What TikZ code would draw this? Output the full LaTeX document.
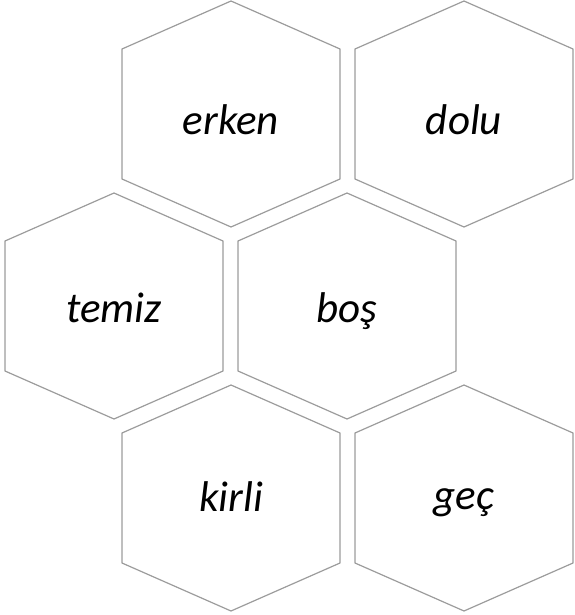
\documentclass[tikz,border=0pt]{standalone}
\usepackage{fontspec}
\setmainfont{Carlito}
\usepackage{tikz}
\usetikzlibrary{calc}

\begin{document}
\begin{tikzpicture}[
    x=1pt, y=-1pt,
    cell/.style={draw=gray!70!black!60, line width=1.2pt, fill=white, line join=round},
    word/.style={font=\fontsize{43}{50}\selectfont\itshape, anchor=base, inner sep=0pt}
]
\useasboundingbox (0,0) rectangle (574,615);
% one hexagon per word: name/centre x/centre y/baseline/text
\foreach \n/\x/\y/\b/\t in {erken/231/114/135/erken, dolu/464/114/135/dolu,
                            temiz/114/306/322/temiz, bos/347/306/322/boş,
                            kirli/231/498/511/kirli, gec/464/498/509/geç} {
  \coordinate (\n) at (\x,\y);
  \draw[cell] ([shift={(0,-113)}]\n) -- ([shift={(109,-65)}]\n)
    -- ([shift={(109,65)}]\n) -- ([shift={(0,113)}]\n)
    -- ([shift={(-109,65)}]\n) -- ([shift={(-109,-65)}]\n) -- cycle;
  \node[word] (\n-txt) at (\x,\b) {\t};
}
\end{tikzpicture}
\end{document}
